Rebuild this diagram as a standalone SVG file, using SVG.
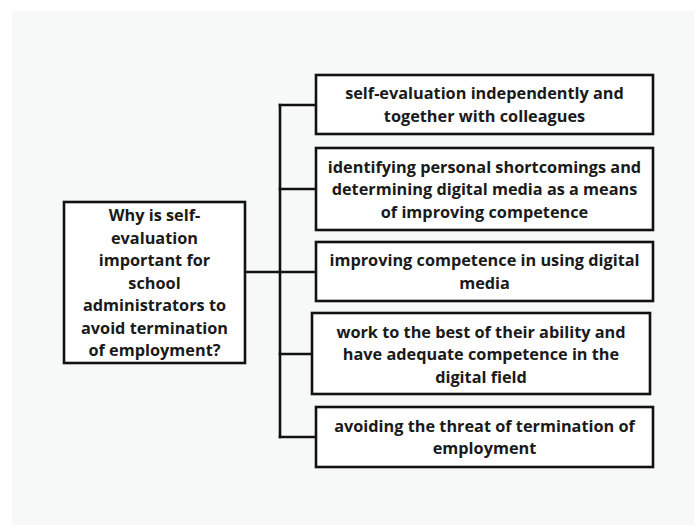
<svg xmlns="http://www.w3.org/2000/svg" width="694" height="525" viewBox="0 0 694 525">
  <style>
    .box { fill: #ffffff; stroke: #111111; stroke-width: 2.6; }
    .wire { fill: none; stroke: #111111; stroke-width: 2.6; stroke-linecap: square; }
    text { font-family: "Open Sans", "Liberation Sans", sans-serif; font-weight: 700; font-size: 16.3px; fill: #1a1a1a; text-anchor: middle; dominant-baseline: central; }
  </style>
  <rect x="0" y="0" width="694" height="525" fill="#ffffff"/>
  <rect x="12" y="11" width="682" height="514" fill="#f7f8f8"/>

  <g id="connectors">
    <path class="wire" d="M245 272 H280"/>
    <path class="wire" d="M280 105 V437"/>
    <path class="wire" d="M280 105 H316"/>
    <path class="wire" d="M280 189 H316"/>
    <path class="wire" d="M280 272 H316"/>
    <path class="wire" d="M280 354 H312"/>
    <path class="wire" d="M280 437 H316"/>
  </g>

  <g id="question">
    <rect class="box" x="64" y="202" width="181" height="161"/>
    <text x="154.5" y="215">Why is self-</text>
    <text x="154.5" y="237.5">evaluation</text>
    <text x="154.5" y="260">important for</text>
    <text x="154.5" y="282.5">school</text>
    <text x="154.5" y="305">administrators to</text>
    <text x="154.5" y="327.5">avoid termination</text>
    <text x="154.5" y="350">of employment?</text>
  </g>

  <g id="self-evaluation">
    <rect class="box" x="316" y="75" width="337" height="59"/>
    <text x="484.5" y="93">self-evaluation independently and</text>
    <text x="484.5" y="115.5">together with colleagues</text>
  </g>

  <g id="shortcomings">
    <rect class="box" x="316" y="148" width="337" height="82"/>
    <text x="484.5" y="166.5">identifying personal shortcomings and</text>
    <text x="484.5" y="189">determining digital media as a means</text>
    <text x="484.5" y="211.5">of improving competence</text>
  </g>

  <g id="competence">
    <rect class="box" x="316" y="242" width="337" height="59"/>
    <text x="484.5" y="260">improving competence in using digital</text>
    <text x="484.5" y="282.5">media</text>
  </g>

  <g id="ability">
    <rect class="box" x="312" y="313" width="338" height="81"/>
    <text x="481" y="331.5">work to the best of their ability and</text>
    <text x="481" y="354">have adequate competence in the</text>
    <text x="481" y="376.5">digital field</text>
  </g>

  <g id="threat">
    <rect class="box" x="316" y="407" width="337" height="60"/>
    <text x="484.5" y="425.5">avoiding the threat of termination of</text>
    <text x="484.5" y="448">employment</text>
  </g>
</svg>
